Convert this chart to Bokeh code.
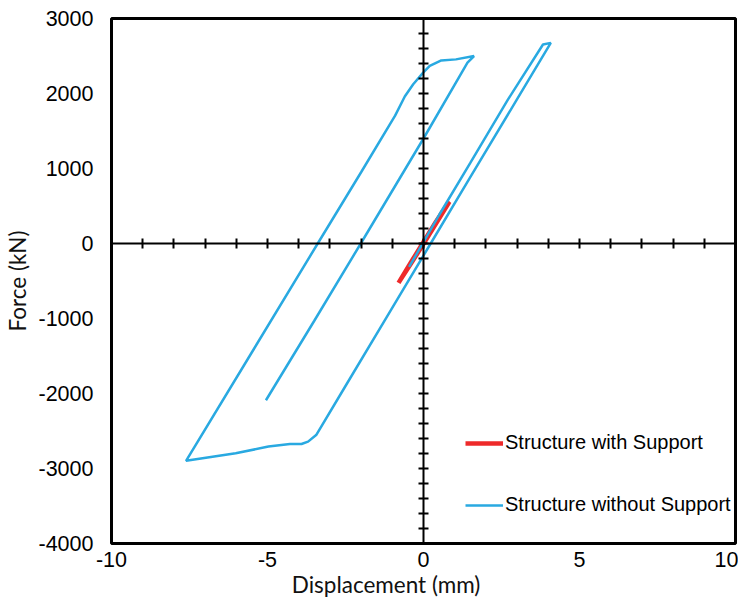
from bokeh.plotting import figure
from bokeh.models import Range1d, LinearAxis, FixedTicker, NumeralTickFormatter
from bokeh.embed import file_html
from bokeh.resources import INLINE

# Structure with Support (displacement mm, force kN)
with_x = [-0.80, -0.40, 0.00, 0.40, 0.80, 0.83, 0.45, 0.05, -0.35, -0.77, -0.80]
with_y = [-525, -250, 20, 290, 545, 555, 300, 30, -235, -505, -525]

# Structure without Support
without_x = [-0.46, 0.50, 1.50, 2.70, 3.83, 4.08, 3.00, 1.49, 0.23, -1.17, -2.50, -3.44,
             -3.70, -3.91, -4.28, -4.97, -6.02, -7.08, -7.61,
             -5.50, -3.39, -2.00, -0.91, -0.60, -0.33, -0.01, 0.20, 0.57, 1.04, 1.62,
             1.41, 0.00, -2.01, -3.50, -5.05]
without_y = [-312, 380, 1075, 1915, 2653, 2675, 1925, 877, 0, -976, -1900, -2554,
             -2642, -2673, -2673, -2708, -2796, -2862, -2898,
             -1450, 0, 950, 1705, 1960, 2124, 2278, 2367, 2441, 2455, 2499,
             2411, 1400, 0, -1030, -2090]

x_label_ticks = [-10, -5, 0, 5, 10]
y_label_ticks = [-4000, -3000, -2000, -1000, 0, 1000, 2000, 3000]
x_cross_ticks = list(range(-10, 11))
y_cross_ticks = list(range(-4000, 3001, 200))

x_title = "Displacement (mm)"
y_title = "Force (kN)"

RED = "#EE2A2A"
BLUE = "#29A9E1"
TICK_FONT = "Liberation Sans"
TITLE_FONT = "Lato"

p = figure(width=738, height=600, output_backend="svg", toolbar_location=None,
           x_range=Range1d(-10, 10), y_range=Range1d(-4000, 3000),
           min_border_left=106, min_border_right=3, min_border_top=18, min_border_bottom=51)

p.xgrid.visible = False
p.ygrid.visible = False
p.outline_line_color = "black"
p.outline_line_width = 3
p.background_fill_color = "white"
p.border_fill_color = "white"

# outer label axes
xa = p.xaxis[0]
ya = p.yaxis[0]
xa.ticker = FixedTicker(ticks=x_label_ticks)
ya.ticker = FixedTicker(ticks=y_label_ticks)
for ax in (xa, ya):
    ax.formatter = NumeralTickFormatter(format="0")
    ax.axis_line_color = None
    ax.major_tick_line_color = None
    ax.minor_tick_line_color = None
    ax.major_tick_in = 0
    ax.major_tick_out = 0
    ax.minor_tick_in = 0
    ax.minor_tick_out = 0
    ax.major_label_text_font = TICK_FONT
    ax.major_label_text_font_size = "21.5px"
    ax.major_label_text_color = "black"
    ax.axis_label_text_font = TITLE_FONT
    ax.axis_label_text_font_size = "22.5px"
    ax.axis_label_text_font_style = "normal"
    ax.axis_label_text_color = "#111111"
# the x title sits left of the frame centre in the original: pad it with no-break spaces
xa.axis_label = x_title + "\u00a0" * 13
ya.axis_label = y_title
xa.major_label_standoff = 8
xa.axis_label_standoff = 1
ya.major_label_standoff = 18
ya.axis_label_standoff = 5

# crossing axes through the origin (tick marks only)
cx = LinearAxis(fixed_location=0, ticker=FixedTicker(ticks=[], minor_ticks=x_cross_ticks))
cy = LinearAxis(fixed_location=0, ticker=FixedTicker(ticks=[], minor_ticks=y_cross_ticks))
for ax in (cx, cy):
    ax.axis_line_color = "black"
    ax.axis_line_width = 2
    ax.major_tick_line_color = None
    ax.minor_tick_line_color = "black"
    ax.minor_tick_line_width = 2
    ax.minor_tick_in = 5
    ax.minor_tick_out = 5
p.add_layout(cx, "below")
p.add_layout(cy, "left")

p.line(with_x, with_y, line_color=RED, line_width=4.5, legend_label="Structure with Support")
p.line(without_x, without_y, line_color=BLUE, line_width=2.5, legend_label="Structure without Support")

lg = p.legend[0]
lg.location = (354, 27)
lg.padding = 0
lg.margin = 0
lg.spacing = 39
lg.glyph_width = 38
lg.glyph_height = 22
lg.label_height = 22
lg.label_standoff = 2
lg.border_line_color = None
lg.background_fill_alpha = 0
lg.label_text_font = TICK_FONT
lg.label_text_font_size = "20px"
lg.label_text_color = "black"

open("out.html", "w").write(file_html(p, INLINE))
